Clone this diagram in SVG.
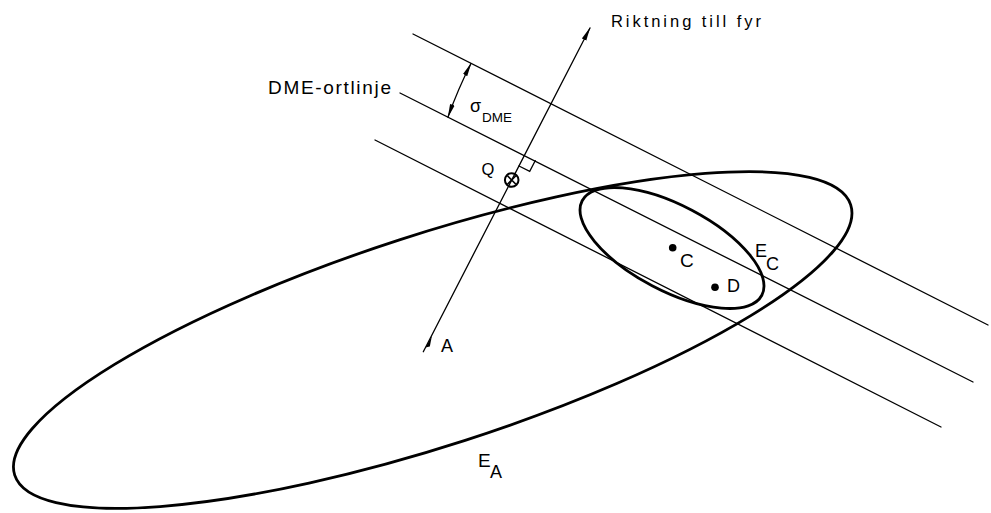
<svg xmlns="http://www.w3.org/2000/svg" width="991" height="513" viewBox="0 0 991 513">
<style>
.thin{stroke:#000;stroke-width:1.3;fill:none;stroke-linecap:round}
.thick{stroke:#000;stroke-width:2.8;fill:none}
.t{font-family:"Liberation Sans",Arial,sans-serif;fill:#000}
</style>
<defs>
<marker id="ah" viewBox="0 0 14 6" refX="13" refY="3" markerWidth="14" markerHeight="6" markerUnits="userSpaceOnUse" orient="auto-start-reverse">
<path d="M0,0.6 L14,3 L0,5.4 Z" fill="#000"/>
</marker>
</defs>
<rect width="991" height="513" fill="#fff"/>
<g id="connectors">
<line id="dme-upper" class="thin" x1="413" y1="34" x2="988" y2="325"/>
<line id="dme-ortlinje" class="thin" x1="400" y1="93" x2="973" y2="382"/>
<line id="dme-lower" class="thin" x1="375" y1="140" x2="941" y2="427"/>
<line id="riktning" class="thin" x1="423.3" y1="351.7" x2="590" y2="28" marker-end="url(#ah)"/>
<path id="sigma-arrow" class="thin" d="M471,63.5 Q458,89 448,117" marker-start="url(#ah)" marker-end="url(#ah)"/>
<polyline id="right-angle" class="thin" points="519,166 529.7,171.4 535.2,160.7"/>
<path id="A-tick" d="M432,335.5 L425.5,347.5 L429.8,346.5 Z" fill="#000"/>
</g>
<g id="EA">
<ellipse class="thick" cx="432.7" cy="340" rx="439.3" ry="105.5" transform="rotate(-17.92 432.7 340)"/>
<text class="t" x="478" y="467" font-size="19">E</text>
<text class="t" x="490" y="477.5" font-size="18">A</text>
</g>
<g id="EC">
<ellipse class="thick" cx="672" cy="248" rx="101.5" ry="42.7" transform="rotate(27.75 672 248)"/>
<text class="t" x="755" y="257" font-size="18">E</text>
<text class="t" x="766" y="269.5" font-size="18">C</text>
</g>
<g id="Q">
<circle cx="511.7" cy="180" r="6.8" fill="none" stroke="#000" stroke-width="2"/>
<path d="M507.5,175.8 L515.9,184.2 M515.9,175.8 L507.5,184.2" stroke="#000" stroke-width="1.6"/>
<text class="t" x="481.5" y="175" font-size="16.5">Q</text>
</g>
<g id="C">
<circle cx="672.7" cy="247.7" r="3.8" fill="#000"/>
<text class="t" x="680" y="266.5" font-size="19">C</text>
</g>
<g id="D">
<circle cx="715" cy="287.3" r="3.8" fill="#000"/>
<text class="t" x="727" y="291.5" font-size="18">D</text>
</g>
<g id="A">
<text class="t" x="441" y="352" font-size="18">A</text>
</g>
<g id="labels">
<text class="t" x="611" y="27" font-size="16.5" textLength="150" lengthAdjust="spacing">Riktning till fyr</text>
<text class="t" x="268" y="93.5" font-size="19" textLength="123" lengthAdjust="spacing">DME-ortlinje</text>
<text class="t" x="470" y="112" font-size="18">σ</text>
<text class="t" x="482" y="121.5" font-size="13.5" textLength="30" lengthAdjust="spacing">DME</text>
</g>
</svg>
